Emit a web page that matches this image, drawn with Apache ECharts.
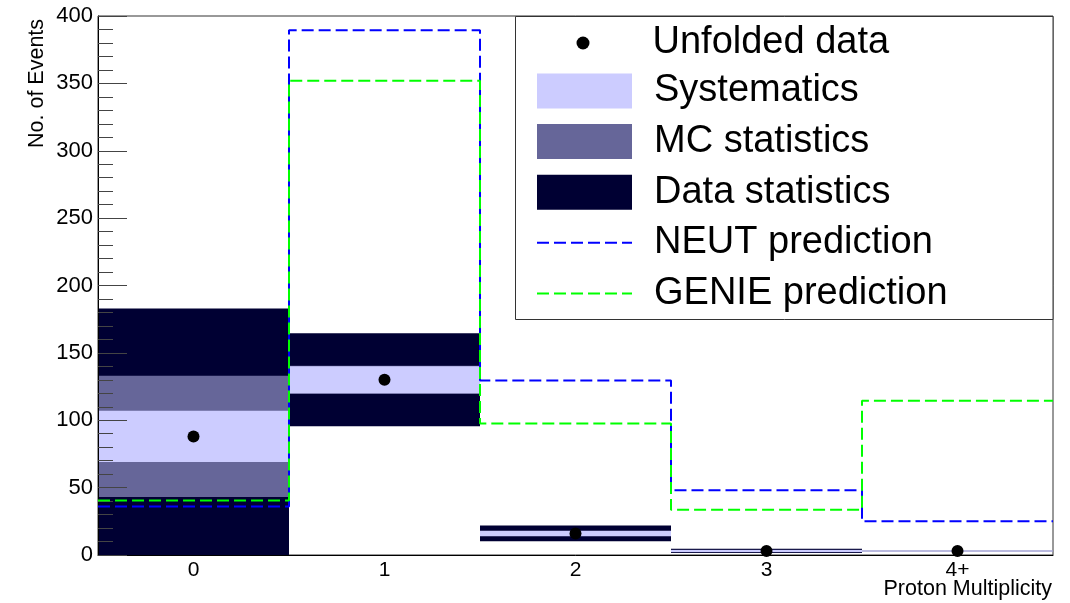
<!DOCTYPE html>
<html>
<head>
    <meta charset="utf-8">
    <title>Proton Multiplicity</title>
    <script src="https://cdn.jsdelivr.net/npm/echarts@6/dist/echarts.min.js"></script>
    <style>
        html, body { margin: 0; padding: 0; background: #fff; }
        #main { width: 1070px; height: 603px; }
    </style>
</head>
<body>
<div id="main"></div>
<script>
    // bins
    var bins = ['0', '1', '2', '3', '4+'];
    // unfolded data + uncertainties (half widths)
    var unfolded = [88, 130, 16, 3, 3];
    var systErr = [19, 10, 1.9, 0.8, 0.4];
    var mcErr = [45, 10.5, 2.2, 0.9, 0.2];
    var dataErr = [95, 34.5, 5.8, 1.6, 0.2];
    // predictions
    var neut = [36, 389.5, 129.5, 48, 25];
    var genie = [40.5, 352, 97.5, 33.5, 114.5];

    var FONT = '"Liberation Sans", Arial, Helvetica, sans-serif';

    function band(err) {
        return unfolded.map(function (v, i) { return [i, v - err[i], v + err[i]]; });
    }
    // step line points at bin edges
    function steps(vals) {
        var pts = vals.map(function (v, i) { return [i - 0.5, v]; });
        pts.push([vals.length - 0.5, vals[vals.length - 1]]);
        return pts;
    }
    function renderBand(params, api) {
        var lo = api.coord([api.value(0), api.value(1)]);
        var hi = api.coord([api.value(0), api.value(2)]);
        var w = api.size([1, 0])[0];
        return {
            type: 'rect',
            shape: { x: lo[0] - w / 2, y: hi[1], width: w, height: lo[1] - hi[1] },
            style: { fill: api.visual('color') }
        };
    }

    var myChart = echarts.init(document.getElementById('main'));
    var option = {
        animation: false,
        backgroundColor: '#fff',
        textStyle: { fontFamily: FONT },
        grid: {
            left: 98, right: 17, top: 16, bottom: 48,
            show: true, borderColor: '#333', borderWidth: 1,
            containLabel: false, outerBoundsMode: 'none'
        },
        xAxis: [{
            type: 'category',
            data: bins,
            z: 3,
            axisLine: { onZero: false, lineStyle: { color: '#000', width: 1 } },
            axisTick: { inside: true, length: 16, lineStyle: { color: '#444' } },
            axisLabel: { fontSize: 21, color: '#000', margin: 5, fontFamily: FONT },
            splitLine: { show: false }
        }, {
            type: 'value', min: -0.5, max: 4.5, show: false
        }],
        yAxis: {
            type: 'value',
            min: 0, max: 400, interval: 50,
            z: 3,
            axisLine: { show: true, onZero: false, lineStyle: { color: '#000', width: 1 } },
            axisTick: { show: true, inside: true, length: 29, lineStyle: { color: '#444' } },
            minorTick: { show: true, splitNumber: 5, length: 15, lineStyle: { color: '#444' } },
            axisLabel: { fontSize: 22, color: '#000', margin: 5, fontFamily: FONT },
            splitLine: { show: false }
        },
        legend: [{
            data: [{ name: 'Unfolded data', icon: 'circle' }],
            left: 576.5, top: 23,
            padding: 0,
            itemWidth: 13, itemHeight: 13,
            selectedMode: false,
            z: 6,
            textStyle: { fontSize: 38, lineHeight: 40, color: '#000', padding: [0, 0, 0, 58], fontFamily: FONT }
        }, {
            data: [
                { name: 'Systematics', icon: 'rect' },
                { name: 'MC statistics', icon: 'rect' },
                { name: 'Data statistics', icon: 'rect' },
                { name: 'NEUT prediction', itemStyle: { opacity: 0 } },
                { name: 'GENIE prediction', itemStyle: { opacity: 0 } }
            ],
            orient: 'vertical',
            left: 536, top: 71,
            padding: 0,
            itemWidth: 95, itemHeight: 35, itemGap: 10.6,
            selectedMode: false,
            z: 6,
            textStyle: { fontSize: 38, lineHeight: 40, color: '#000', padding: [0, 0, 0, 17], fontFamily: FONT }
        }],
        graphic: [{
            type: 'rect',
            z: 4,
            shape: { x: 515.5, y: 16.5, width: 537.5, height: 303 },
            style: { fill: '#fff', stroke: '#333', lineWidth: 1 }
        }, {
            type: 'text',
            x: 37, y: 148,
            rotation: Math.PI / 2,
            style: {
                text: 'No. of Events', fontSize: 21.5, fontFamily: FONT, fill: '#000',
                align: 'left', verticalAlign: 'middle'
            }
        }, {
            type: 'text',
            x: 1052, y: 589,
            style: {
                text: 'Proton Multiplicity', fontSize: 21.5, fontFamily: FONT, fill: '#000',
                align: 'right', verticalAlign: 'middle'
            }
        }],
        series: [{
            name: 'Data statistics',
            type: 'custom',
            clip: true,
            renderItem: renderBand,
            itemStyle: { color: '#000033' },
            encode: { x: 0, y: [1, 2] },
            data: band(dataErr),
            z: 2
        }, {
            name: 'MC statistics',
            type: 'custom',
            clip: true,
            renderItem: renderBand,
            itemStyle: { color: '#666699' },
            encode: { x: 0, y: [1, 2] },
            data: band(mcErr),
            z: 2
        }, {
            name: 'Systematics',
            type: 'custom',
            clip: true,
            renderItem: renderBand,
            itemStyle: { color: '#ccccff' },
            encode: { x: 0, y: [1, 2] },
            data: band(systErr),
            z: 2
        }, {
            name: 'NEUT prediction',
            type: 'line',
            xAxisIndex: 1,
            step: 'end',
            symbol: 'none',
            itemStyle: { color: '#0000ff' },
            lineStyle: { color: '#0000ff', width: 2, type: [12, 5] },
            data: steps(neut),
            z: 3
        }, {
            name: 'GENIE prediction',
            type: 'line',
            xAxisIndex: 1,
            step: 'end',
            symbol: 'none',
            itemStyle: { color: '#00ff00' },
            lineStyle: { color: '#00ff00', width: 2, type: [12, 5] },
            data: steps(genie),
            z: 3
        }, {
            name: 'Unfolded data',
            type: 'scatter',
            symbol: 'circle',
            symbolSize: 12,
            itemStyle: { color: '#000', opacity: 1 },
            data: unfolded,
            z: 4
        }]
    };
    myChart.setOption(option);
</script>
</body>
</html>
